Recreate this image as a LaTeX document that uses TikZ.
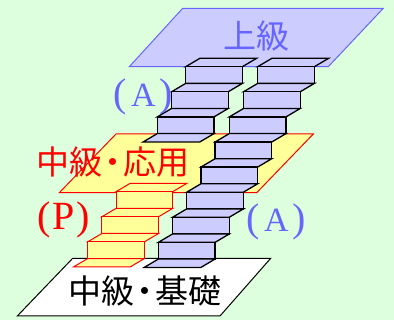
\documentclass[tikz,border=0pt]{standalone}
\usepackage{fontspec}
\setmainfont{Liberation Serif}
\newfontfamily\cjk{Noto Sans CJK JP}
\definecolor{bgmint}{HTML}{DDFFDD}
\definecolor{lavender}{HTML}{CCCCFF}
\definecolor{periwinkle}{HTML}{6666FF}
\definecolor{paleyellow}{HTML}{FFFF99}
\newcommand\paren[1]{{\fontsize{40}{40}\selectfont#1}}
% letter in tall parentheses: #1 letter size, #2 gap, #3 letter
\newcommand\plabel[3]{\paren{(}\kern#2{\fontsize{#1}{#1}\selectfont#3}\kern#2\paren{)}}
% a narrow middle dot between two words
\newcommand\middot{\kern-6pt・\kern-6pt}
\tikzset{
  plane/.style={line width=1pt, line join=miter},
  upperplane/.style={plane, draw=periwinkle, fill=lavender},
  midplane/.style={plane, draw=red, fill=paleyellow},
  baseplane/.style={plane, draw=black, fill=white},
  bluestep/.style={draw=black, fill=lavender, line width=1.3pt},
  yellowstep/.style={draw=red, fill=paleyellow, line width=1pt},
  levellabel/.style={font=\cjk\fontsize{33}{33}\selectfont, inner sep=0pt},
  parenlabel/.style={anchor=base, inner sep=0pt},
}
% one step of a flight: tread seen from above, then the riser below it
\newcommand\stairstep[3]{%
  \draw[#1] (#2,#3) -- ++(14.2,-8.4) -- ++(56.7,0) -- ++(-14.2,8.4) -- cycle;
  \draw[#1] (#2,#3) rectangle ++(56.7,16.7);}
\newcommand\stairtread[3]{%
  \draw[#1] (#2,#3) -- ++(14.2,-8.4) -- ++(56.7,0) -- ++(-14.2,8.4) -- cycle;}
\begin{document}
\begin{tikzpicture}[x=1pt,y=-1pt]
\useasboundingbox (0,0) rectangle (394,320);
\fill[bgmint] (0,0) rectangle (394,320);

% the three levels
\draw[upperplane] (182.7,8.3) -- (383.3,8.3) -- (328.3,66.7) -- (129.3,66.7) -- cycle;
\node[levellabel, text=periwinkle] (upper) at (256,36) {上級};

\draw[midplane] (116,134) -- (313.3,134) -- (256.7,192.7) -- (59.3,192.7) -- cycle;
\node[levellabel, text=red] (applied) at (113.3,162) {中級\middot 応用};

\draw[baseplane] (72.7,258.3) -- (270.7,258.3) -- (220,316) -- (17.3,316) -- cycle;
\node[levellabel, text=black] (basic) at (145,291) {中級\middot 基礎};

% short blue flight: middle level up to the upper level
\foreach \k in {0,1,2}{
  \pgfmathsetmacro\xa{185.7-14.2*\k}
  \pgfmathsetmacro\ya{66.7+25.1*\k}
  \stairstep{bluestep}{\xa}{\ya}}
\stairtread{bluestep}{143.1}{142}

% long blue flight: base level straight up to the upper level
\foreach \k in {0,...,7}{
  \pgfmathsetmacro\xa{257.7-14.2*\k}
  \pgfmathsetmacro\ya{66.7+25.1*\k}
  \stairstep{bluestep}{\xa}{\ya}}
\stairtread{bluestep}{144.1}{267.5}

% yellow flight: base level up to the middle level
\foreach \k in {0,1,2}{
  \pgfmathsetmacro\xa{116-14.2*\k}
  \pgfmathsetmacro\ya{191.7+25.1*\k}
  \stairstep{yellowstep}{\xa}{\ya}}
\stairtread{yellowstep}{73.4}{267}

% paths between the levels
\node[parenlabel, text=periwinkle] (routeA1) at (143.5,106.7) {\plabel{34}{4pt}{A}};
\node[parenlabel, text=red] (routeP) at (63.5,230) {\plabel{40}{1.5pt}{P}};
\node[parenlabel, text=periwinkle] (routeA2) at (276.5,231.5) {\plabel{34}{4pt}{A}};
\end{tikzpicture}
\end{document}
